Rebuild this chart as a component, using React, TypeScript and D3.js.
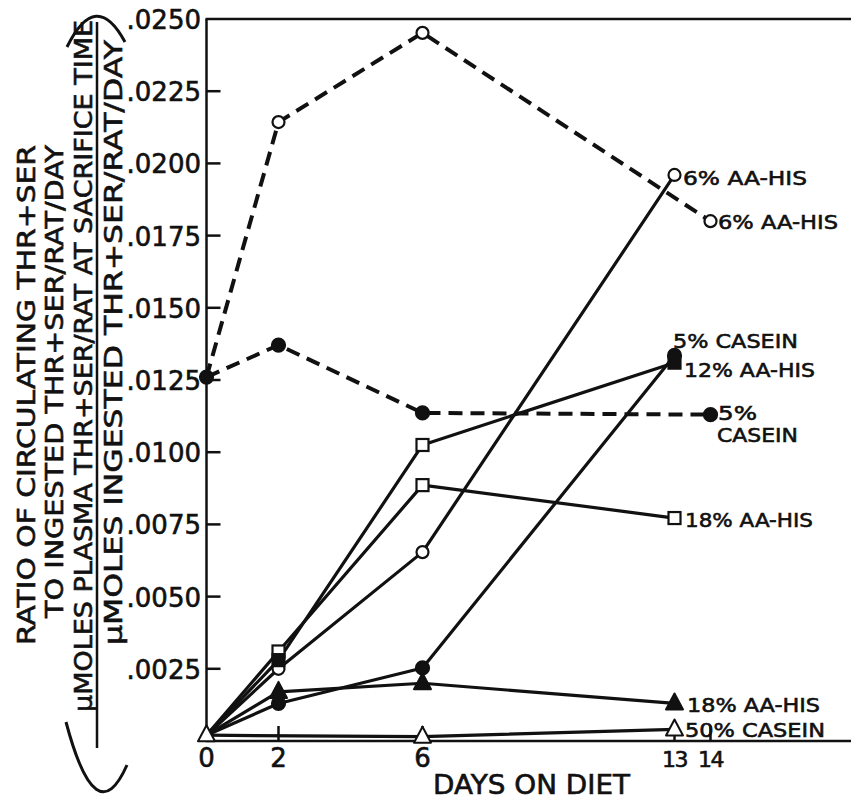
import React, { useEffect } from 'react';
import * as d3 from 'd3';

// ---- data -------------------------------------------------------------
// Ratio of circulating THR+SER to ingested THR+SER, by days on diet.
const aa6DashedDays = [0, 2, 6, 14];
const aa6DashedValues = [0.0126, 0.02143, 0.02452, 0.0180];

const casein5DashedDays = [0, 2, 6, 14];
const casein5DashedValues = [0.0126, 0.01371, 0.01136, 0.0113];

const aa6SolidDays = [0, 2, 6, 13];
const aa6SolidValues = [0.0002, 0.0025, 0.00654, 0.0196];

const aa12Days = [0, 2, 6, 13];
const aa12Values = [0.0002, 0.0028, 0.01025, 0.0131];
const aa12Filled = [true, true, false, true];

const aa18SquareDays = [0, 2, 6, 13];
const aa18SquareValues = [0.0002, 0.0031, 0.00886, 0.00772];

const casein5SolidDays = [0, 2, 6, 13];
const casein5SolidValues = [0.0002, 0.0013, 0.00253, 0.01335];

const aa18TriangleDays = [0, 2, 6, 13];
const aa18TriangleValues = [0.0002, 0.0017, 0.002, 0.0013];

const casein50Days = [0, 6, 13];
const casein50Values = [0.0002, 0.00015, 0.0004];

const yTickValues = [0.0025, 0.005, 0.0075, 0.01, 0.0125, 0.015, 0.0175, 0.02, 0.0225, 0.025];
const yTickLabels = ['.0025', '.0050', '.0075', '.0100', '.0125', '.0150', '.0175', '.0200', '.0225', '.0250'];
const xTickDays = [2, 6, 13, 14];
const xLabelDays = [0, 2, 6, 13, 14];
const xLabelTexts = ['0', '2', '6', '13', '14'];

const yTitleLines = [
  'RATIO OF CIRCULATING THR+SER',
  'TO INGESTED THR+SER/RAT/DAY',
  'μMOLES PLASMA THR+SER/RAT AT SACRIFICE TIME',
  'μMOLES INGESTED THR+SER/RAT/DAY',
];
const xTitle = 'DAYS ON DIET';

type Marker = 'circle' | 'square' | 'triangle';
interface Series {
  id: string;
  days: number[];
  values: number[];
  marker: Marker;
  filled: boolean[];
  dashed: boolean;
  markerFrom: number;
  label: string[];
}

const all = (n: number, v: boolean) => Array.from({ length: n }, () => v);

const series: Series[] = [
  { id: 'aa6Dashed', days: aa6DashedDays, values: aa6DashedValues, marker: 'circle', filled: all(4, false), dashed: true, markerFrom: 1, label: ['6% AA-HIS'] },
  { id: 'casein5Dashed', days: casein5DashedDays, values: casein5DashedValues, marker: 'circle', filled: all(4, true), dashed: true, markerFrom: 0, label: ['5%', 'CASEIN'] },
  { id: 'aa6Solid', days: aa6SolidDays, values: aa6SolidValues, marker: 'circle', filled: all(4, false), dashed: false, markerFrom: 1, label: ['6% AA-HIS'] },
  { id: 'aa18Square', days: aa18SquareDays, values: aa18SquareValues, marker: 'square', filled: all(4, false), dashed: false, markerFrom: 1, label: ['18% AA-HIS'] },
  { id: 'aa12', days: aa12Days, values: aa12Values, marker: 'square', filled: aa12Filled, dashed: false, markerFrom: 1, label: ['12% AA-HIS'] },
  { id: 'casein5Solid', days: casein5SolidDays, values: casein5SolidValues, marker: 'circle', filled: all(4, true), dashed: false, markerFrom: 1, label: ['5% CASEIN'] },
  { id: 'aa18Triangle', days: aa18TriangleDays, values: aa18TriangleValues, marker: 'triangle', filled: all(4, true), dashed: false, markerFrom: 1, label: ['18% AA-HIS'] },
  { id: 'casein50', days: casein50Days, values: casein50Values, marker: 'triangle', filled: all(3, false), dashed: false, markerFrom: 0, label: ['50% CASEIN'] },
];

// ---- layout -----------------------------------------------------------
const W = 851;
const H = 802;
const FONT = '"DejaVu Sans", "Liberation Sans", sans-serif';
const INK = '#111';
const TEXT_WEIGHT = { stroke: INK, strokeWidth: 0.6 };

const x = d3.scaleLinear().domain([0, 18]).range([206.5, 854.5]);
const y = d3.scaleLinear().domain([0, 0.025]).range([741, 19]);

// label offsets (from each series' final point) and text widths, per line
const labelLayout: Record<string, { dx: number; dy: number; w: number }[]> = {
  aa6Dashed: [{ dx: 7.5, dy: 8, w: 120 }],
  casein5Dashed: [{ dx: 7.5, dy: 5.5, w: 39 }, { dx: 6.5, dy: 27.5, w: 81 }],
  aa6Solid: [{ dx: 8.5, dy: 10, w: 124 }],
  aa18Square: [{ dx: 10.5, dy: 9, w: 128 }],
  aa12: [{ dx: 9.5, dy: 14, w: 131 }],
  casein5Solid: [{ dx: -1.5, dy: -7.5, w: 125 }],
  aa18Triangle: [{ dx: 12.5, dy: 8.5, w: 133 }],
  casein50: [{ dx: 10.5, dy: 7.5, w: 140 }],
};

// rotated y-title lines: baseline x, start y (bottom), length
const yTitleLayout = [
  { bx: 35, y0: 645, len: 500 },
  { bx: 63, y0: 618, len: 473 },
  { bx: 92, y0: 712, len: 692 },
  { bx: 122, y0: 645, len: 605 },
];

function MarkerShape({ kind, cx, cy, filled }: { kind: Marker; cx: number; cy: number; filled: boolean }) {
  const fill = filled ? INK : '#fff';
  if (kind === 'circle') {
    return <circle cx={cx} cy={cy} r={filled ? 6.5 : 6} fill={fill} stroke={INK} strokeWidth={2.2} />;
  }
  if (kind === 'square') {
    return <rect x={cx - 6} y={cy - 6} width={12} height={12} fill={fill} stroke={INK} strokeWidth={2.2} />;
  }
  const p = `M${cx},${cy - 10}L${cx + 8.5},${cy + 6}L${cx - 8.5},${cy + 6}Z`;
  return <path d={p} fill={fill} stroke={INK} strokeWidth={2} strokeLinejoin="round" />;
}

export default function App() {
  useEffect(() => {
    document.body.style.margin = '0';
  }, []);

  const line = d3
    .line<[number, number]>()
    .x((d) => x(d[0]))
    .y((d) => y(d[1]));

  return (
    <svg width={W} height={H} viewBox={`0 0 ${W} ${H}`} style={{ display: 'block', background: '#fff' }} fontFamily={FONT}>
      <rect width={W} height={H} fill="#fff" />

      {/* y-axis title: two-line caption and bracketed fraction */}
      <g fill={INK} {...TEXT_WEIGHT}>
        {yTitleLines.map((t, i) => {
          const l = yTitleLayout[i];
          return (
            <text
              key={i}
              transform={`translate(${l.bx},${l.y0}) rotate(-90)`}
              fontSize={25}
              textLength={l.len}
              lengthAdjust="spacingAndGlyphs"
            >
              {t}
            </text>
          );
        })}
      </g>
      <line x1={97} x2={97} y1={22} y2={748} stroke={INK} strokeWidth={2.5} />
      <path d="M67,47 Q96,-12 125,42" fill="none" stroke={INK} strokeWidth={3} />
      <path d="M66,722 Q96,835 127,765" fill="none" stroke={INK} strokeWidth={3} />

      {/* frame: left axis, top rule, bottom axis */}
      <line x1={x(0)} x2={x(0)} y1={y(0.025)} y2={y(0)} stroke={INK} strokeWidth={2.5} />
      <line x1={x(0) - 1} x2={W} y1={y(0.025)} y2={y(0.025)} stroke={INK} strokeWidth={2.5} />
      <line x1={x(0) - 1} x2={W} y1={y(0)} y2={y(0)} stroke={INK} strokeWidth={2.5} />

      {/* y ticks and labels */}
      {yTickValues.map((v, i) => (
        <g key={v}>
          {i < yTickValues.length - 1 && (
            <line x1={x(0)} x2={x(0) + 14} y1={y(v)} y2={y(v)} stroke={INK} strokeWidth={2.5} />
          )}
          <text x={201} y={y(v) + 10} fontSize={26} textAnchor="end" fill={INK} {...TEXT_WEIGHT}>
            {yTickLabels[i]}
          </text>
        </g>
      ))}

      {/* x ticks and labels */}
      {xTickDays.map((d) => (
        <line key={d} x1={x(d)} x2={x(d)} y1={y(0)} y2={y(0) - 15} stroke={INK} strokeWidth={2.5} />
      ))}
      {xLabelDays.map((d, i) => (
        <text
          key={d}
          x={x(d)}
          y={767}
          fontSize={xLabelTexts[i].length > 1 ? 22 : 26}
          letterSpacing={xLabelTexts[i].length > 1 ? -1.5 : 0}
          textAnchor="middle"
          fill={INK}
          {...TEXT_WEIGHT}
        >
          {xLabelTexts[i]}
        </text>
      ))}
      <text x={433} y={794} fontSize={26} textLength={197} lengthAdjust="spacingAndGlyphs" fill={INK} {...TEXT_WEIGHT}>
        {xTitle}
      </text>

      {/* series lines */}
      {series.map((s) => (
        <path
          key={s.id}
          d={line(s.days.map((d, i) => [d, s.values[i]] as [number, number])) || ''}
          fill="none"
          stroke={INK}
          strokeWidth={s.dashed ? 4 : 3.2}
          strokeDasharray={s.dashed ? '14 8' : undefined}
          strokeLinejoin="round"
        />
      ))}

      {/* series markers */}
      {series.map((s) =>
        s.days.map((d, i) =>
          i < s.markerFrom ? null : (
            <MarkerShape key={`${s.id}-${i}`} kind={s.marker} cx={x(d)} cy={y(s.values[i])} filled={s.filled[i]} />
          )
        )
      )}

      {/* end-of-line labels */}
      {series.map((s) => {
        const n = s.days.length - 1;
        const px = x(s.days[n]);
        const py = y(s.values[n]);
        return s.label.map((t, j) => {
          const l = labelLayout[s.id][j];
          return (
            <text
              key={`${s.id}-l${j}`}
              x={px + l.dx}
              y={py + l.dy}
              fontSize={20}
              textLength={l.w}
              lengthAdjust="spacingAndGlyphs"
              fill={INK}
              {...TEXT_WEIGHT}
            >
              {t}
            </text>
          );
        });
      })}
    </svg>
  );
}
